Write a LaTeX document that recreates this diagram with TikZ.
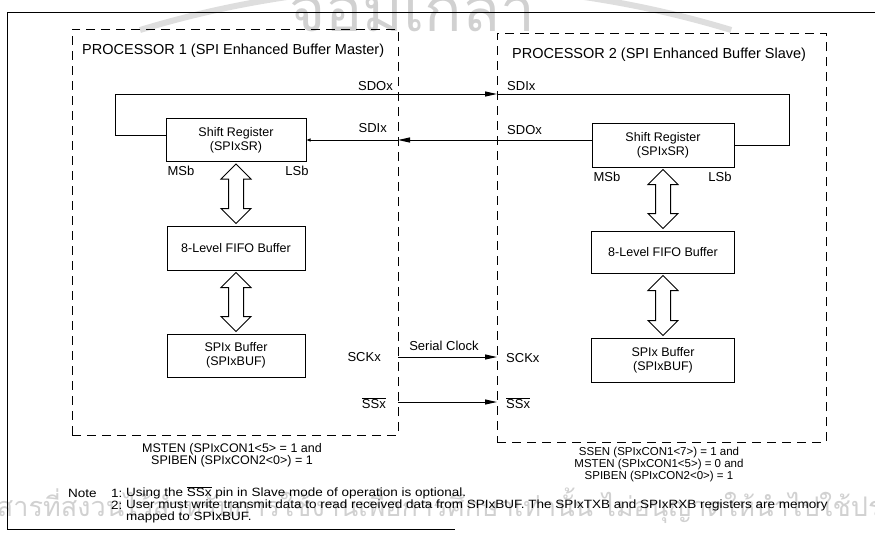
\documentclass[tikz,border=0pt]{standalone}
\usepackage{fontspec}
\usepackage{graphicx}
\setmainfont{Liberation Sans}
\newfontfamily\thaifont[Script=Thai]{Loma}
\usetikzlibrary{arrows.meta,calc}
\tikzset{
  box/.style={draw, line width=1pt, minimum width=140pt, minimum height=43pt,
    align=center, inner sep=0pt, font=\fontsize{12.5}{14}\selectfont},
  frame/.style={draw, dash pattern=on 9pt off 6pt, line width=1pt,
    inner sep=0pt, outer sep=0pt, anchor=north west},
  lbl/.style={font=\fontsize{13}{15}\selectfont, inner sep=0pt},
  ttl/.style={font=\fontsize{14.5}{17}\selectfont, inner sep=0pt, anchor=west},
  capl/.style={font=\fontsize{12.5}{14}\selectfont, inner sep=0pt},
  capr/.style={font=\fontsize{11.5}{13}\selectfont, inner sep=0pt},
  notetxt/.style={font=\fontsize{12}{14}\selectfont, inner sep=0pt, anchor=west},
  wire/.style={line width=1pt},
  tip/.style={-{Triangle[length=12pt,width=5pt]}},
  smalltip/.style={-{Triangle[length=4pt,width=3pt]}},
  hollow/.style={draw, line width=1pt, fill=white},
  wm/.style={text=black!18, inner sep=0pt},
}
\newcommand\widen[1]{\scalebox{1.125}[1]{#1}}
\newcommand\hollowarr[2]{%
  \draw[hollow] let \p1=(#1.south), \p2=(#2.north) in
    (\x2,\y1-2pt) -- (\x2+15pt,\y1-17pt) -- (\x2+7.5pt,\y1-17pt)
    -- (\x2+7.5pt,\y2+17pt) -- (\x2+15pt,\y2+17pt) -- (\x2,\y2+2pt)
    -- (\x2-15pt,\y2+17pt) -- (\x2-7.5pt,\y2+17pt) -- (\x2-7.5pt,\y1-17pt)
    -- (\x2-15pt,\y1-17pt) -- cycle;}
\begin{document}
\begin{tikzpicture}[x=1pt,y=-1pt]
\useasboundingbox (0,0) rectangle (875,541);
% watermark
\begin{scope}
\clip (0,0) rectangle (875,541);
\draw[black!13, line width=6pt] (140,30) arc[start angle=-106.9, end angle=-73.1, radius=1017];
\node[wm, font=\thaifont\fontsize{62}{62}\selectfont] (wmtop) at (412,6) {จอมเกล้า};
\node[wm, font=\thaifont\fontsize{27}{27}\selectfont, anchor=west] (wmbot) at (-45,506) {เอกสารที่สงวนไว้สำหรับการใช้งานเพื่อการศึกษาเท่านั้น ไม่อนุญาตให้นำไปใช้ประโยชน์};
\end{scope}
% outer frame
\draw[wire] (875,12) -- (7,12) -- (7,529) -- (455,529);
% processor frames
\node[frame, minimum width=326pt, minimum height=406pt] (p1) at (72,29) {};
\node[frame, minimum width=329pt, minimum height=409pt] (p2) at (497,33) {};
\node[ttl] (t1) at (82,51) {PROCESSOR 1 (SPI Enhanced Buffer Master)};
\node[ttl] (t2) at (512,55) {PROCESSOR 2 (SPI Enhanced Buffer Slave)};
% boxes
\node[box] (sr1) at (236,140) {Shift Register\\(SPIxSR)};
\node[box, minimum width=138pt, minimum height=44pt] (fifo1) at (236,248) {8-Level FIFO Buffer};
\node[box, minimum width=138pt] (buf1) at (236,355.5) {SPIx Buffer\\(SPIxBUF)};
\node[box, minimum width=142pt, minimum height=44pt] (sr2) at (663,145) {Shift Register\\(SPIxSR)};
\node[box, minimum width=143pt, minimum height=42pt] (fifo2) at (663,252) {8-Level FIFO Buffer};
\node[box, minimum width=143pt, minimum height=44pt] (buf2) at (663,360) {SPIx Buffer\\(SPIxBUF)};
% MSb / LSb
\node[lbl] (ms1) at (181,171) {MSb};
\node[lbl] (ls1) at (297,171) {LSb};
\node[lbl] (ms2) at (607,177) {MSb};
\node[lbl] (ls2) at (720,177) {LSb};
% hollow arrows
\hollowarr{sr1}{fifo1}
\hollowarr{fifo1}{buf1}
\hollowarr{sr2}{fifo2}
\hollowarr{fifo2}{buf2}
% signal labels
\node[lbl, anchor=east] (sdo1) at (393,86) {SDOx};
\node[lbl, anchor=east] (sdi1) at (387,128) {SDIx};
\node[lbl, anchor=west] (sdi2) at (507,86) {SDIx};
\node[lbl, anchor=west] (sdo2) at (507,130) {SDOx};
\node[lbl, anchor=east] (sck1) at (381,357) {SCKx};
\node[lbl, anchor=west] (sck2) at (506,358) {SCKx};
\node[lbl, anchor=east] (ss1) at (386,403) {$\overline{\mbox{SSx}}$};
\node[lbl, anchor=west] (ss2) at (506,403) {$\overline{\mbox{SSx}}$};
\node[lbl] (serclk) at (444,346) {Serial Clock};
% loop coordinates
\coordinate (lpL) at (115,94);
\coordinate (lpR) at (789,94);
\coordinate (ysdo) at (0,140);
\coordinate (ysck) at (0,357);
\coordinate (yss) at (0,402);
% SDO (master) -> SDI (slave)
\draw[wire, tip] ([yshift=5pt]sr1.west) -| (lpL) -- (p2.west |- lpL);
\draw[wire] (p2.west |- lpL) -- (lpR) |- (sr2.east);
% SDO (slave) -> SDI (master)
\draw[wire, tip] (sr2.west |- ysdo) -- (p1.east |- ysdo);
\draw[wire, smalltip] (p1.east |- ysdo) -- (sr1.east |- ysdo);
% clock and slave select
\draw[wire, tip] (p1.east |- ysck) -- (p2.west |- ysck);
\draw[wire, tip] (p1.east |- yss) -- (p2.west |- yss);
% captions
\node[capl] (c1a) at (232,449) {MSTEN (SPIxCON1<5> = 1 and};
\node[capl] (c1b) at (232,461) {SPIBEN (SPIxCON2<0>) = 1};
\node[capr] (c2a) at (659,453) {SSEN (SPIxCON1<7>) = 1 and};
\node[capr] (c2b) at (659,465) {MSTEN (SPIxCON1<5>) = 0 and};
\node[capr] (c2c) at (659,477) {SPIBEN (SPIxCON2<0>) = 1};
% notes
\node[notetxt] (nt) at (68,493) {\widen{Note}};
\node[notetxt] (n1) at (111,493) {\widen{1:}};
\node[notetxt] (n2) at (111,505) {\widen{2:}};
\node[notetxt] (n1t) at (126,493) {\widen{Using the $\overline{\mbox{SSx}}$ pin in Slave mode of operation is optional.}};
\node[notetxt] (n2t) at (126,505) {\widen{User must write transmit data to read received data from SPIxBUF. The SPIxTXB and SPIxRXB registers are memory}};
\node[notetxt] (n3t) at (126,517) {\widen{mapped to SPIxBUF.}};
\end{tikzpicture}
\end{document}
